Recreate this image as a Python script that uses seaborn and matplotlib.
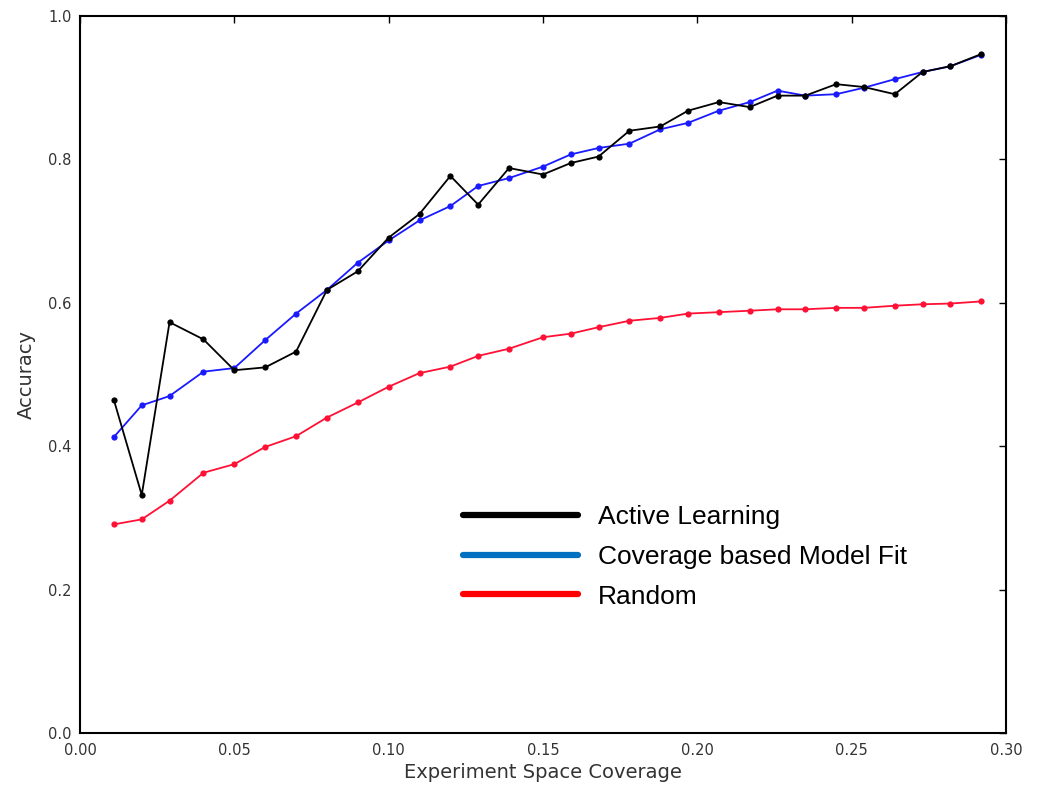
import numpy as np
import pandas as pd
import matplotlib
matplotlib.use("Agg")
import matplotlib.pyplot as plt
from matplotlib.lines import Line2D
import seaborn as sns

# coverage values (x) shared by all three runs
coverage = [0.011, 0.020, 0.029, 0.040, 0.050, 0.060, 0.070, 0.080, 0.090, 0.100,
            0.110, 0.120, 0.129, 0.139, 0.150, 0.159, 0.168, 0.178, 0.188, 0.197,
            0.207, 0.217, 0.226, 0.235, 0.245, 0.254, 0.264, 0.273, 0.282, 0.292]

active_learning = [0.464, 0.332, 0.573, 0.549, 0.506, 0.510, 0.532, 0.618, 0.644, 0.691,
                   0.724, 0.777, 0.737, 0.788, 0.779, 0.795, 0.804, 0.840, 0.846, 0.868,
                   0.880, 0.873, 0.889, 0.889, 0.905, 0.901, 0.891, 0.922, 0.930, 0.947]

coverage_fit = [0.413, 0.457, 0.470, 0.504, 0.509, 0.548, 0.585, 0.618, 0.656, 0.687,
                0.715, 0.735, 0.763, 0.774, 0.790, 0.807, 0.816, 0.822, 0.842, 0.851,
                0.868, 0.880, 0.896, 0.889, 0.891, 0.900, 0.912, 0.922, 0.930, 0.946]

random_sel = [0.291, 0.298, 0.324, 0.363, 0.375, 0.399, 0.414, 0.440, 0.461, 0.483,
              0.502, 0.511, 0.526, 0.536, 0.552, 0.557, 0.566, 0.575, 0.579, 0.585,
              0.587, 0.589, 0.591, 0.591, 0.593, 0.593, 0.596, 0.598, 0.599, 0.602]

labels = ["Active Learning", "Coverage based Model Fit", "Random"]
line_colors = {"Active Learning": "#000000",
               "Coverage based Model Fit": "#1a1aff",
               "Random": "#ff1035"}
legend_colors = ["#000000", "#0070c0", "#ff0000"]

df = pd.DataFrame({
    "coverage": coverage * 3,
    "accuracy": active_learning + coverage_fit + random_sel,
    "method": np.repeat(labels, len(coverage)),
})

sns.set_style("white")
plt.rcParams["xtick.direction"] = "in"
plt.rcParams["ytick.direction"] = "in"

fig = plt.figure(figsize=(10.38, 7.87), dpi=100)
ax = fig.add_axes([0.0771, 0.0686, 0.892, 0.911])

# draw the random first so the other two sit on top of it
for name in ["Random", "Coverage based Model Fit", "Active Learning"]:
    sub = df[df["method"] == name]
    sns.lineplot(data=sub, x="coverage", y="accuracy", ax=ax, color=line_colors[name],
                 marker="o", markersize=4.5, markeredgewidth=0, linewidth=1.3,
                 legend=False)

ax.set_xlim(0, 0.30)
ax.set_ylim(0, 1.0)
ax.set_xticks(np.arange(0, 0.301, 0.05))
ax.set_yticks(np.arange(0, 1.01, 0.2))
ax.tick_params(axis="both", which="both", top=True, right=True, length=5,
               width=1, labelsize=10.5, colors="black", labelcolor="#333333")
ax.tick_params(axis="x", pad=7)
ax.tick_params(axis="y", pad=6)
for sp in ax.spines.values():
    sp.set_color("black")
    sp.set_linewidth(1.5)

ax.set_xlabel("Experiment Space Coverage", fontsize=14, color="#333333", labelpad=4)
ax.set_ylabel("Accuracy", fontsize=14, color="#333333", labelpad=9)

handles = [Line2D([], [], color=c, linewidth=4.5) for c in legend_colors]
ax.legend(handles, labels, loc="upper left", bbox_to_anchor=(0.414, 0.318),
          frameon=False, prop={"family": "Liberation Sans", "size": 19},
          handlelength=4.35, handletextpad=0.75, labelspacing=0.6,
          borderpad=0, borderaxespad=0, labelcolor="black")

fig.savefig("out.png", dpi=100, facecolor="white")
